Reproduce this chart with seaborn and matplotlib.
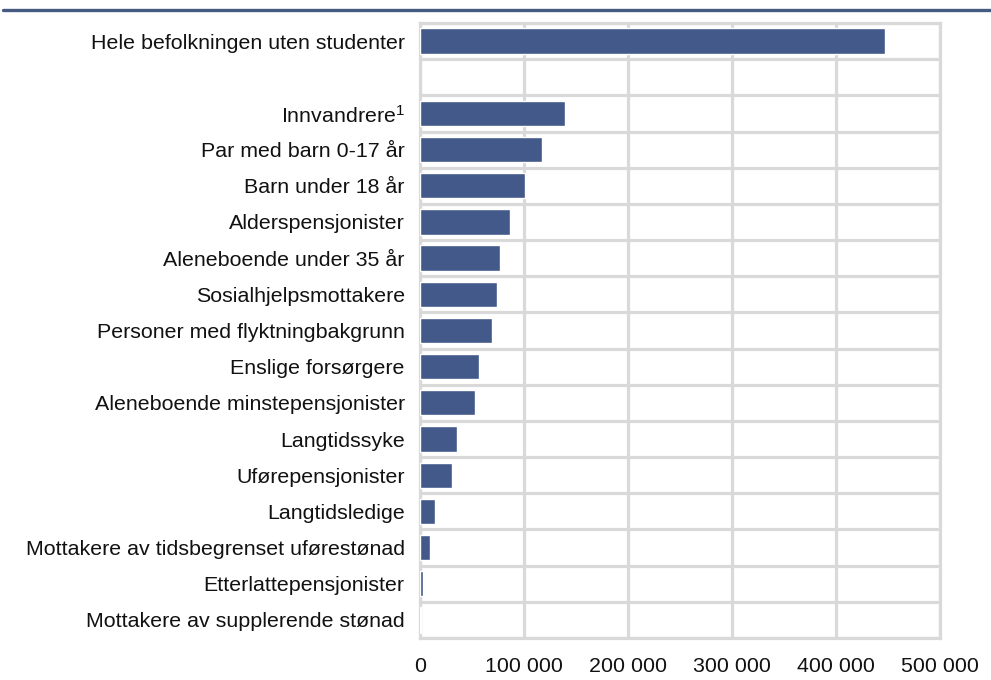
import seaborn as sns
import matplotlib.pyplot as plt
import pandas as pd
from matplotlib.ticker import FuncFormatter, FixedLocator

categories = [
    "Hele befolkningen uten studenter",
    "",
    "Innvandrere$^1$",
    "Par med barn 0-17 år",
    "Barn under 18 år",
    "Alderspensjonister",
    "Aleneboende under 35 år",
    "Sosialhjelpsmottakere",
    "Personer med flyktningbakgrunn",
    "Enslige forsørgere",
    "Aleneboende minstepensjonister",
    "Langtidssyke",
    "Uførepensjonister",
    "Langtidsledige",
    "Mottakere av tidsbegrenset uførestønad",
    "Etterlattepensjonister",
    "Mottakere av supplerende stønad",
]
values = [447000, None, 139000, 117000, 101000, 87000, 77000, 74500, 69000,
          57000, 53000, 36000, 31000, 14500, 10000, 2500, 800]
x_ticks = [0, 100000, 200000, 300000, 400000, 500000]

df = pd.DataFrame({"gruppe": categories, "antall": values})

sns.set_style("white")
plt.rcParams["font.family"] = ["Liberation Sans", "DejaVu Sans"]
plt.rcParams["mathtext.fontset"] = "custom"
plt.rcParams["mathtext.rm"] = "Liberation Sans"
plt.rcParams["mathtext.it"] = "Liberation Sans"

fig = plt.figure(figsize=(9.91, 6.80), dpi=100)
ax = fig.add_axes([0.4238, 0.0618, 0.5248, 0.9044])

sns.barplot(data=df, x="antall", y="gruppe", order=categories, color="#42598A",
            saturation=1, width=0.7, orient="h", ax=ax, zorder=3)

grid_c = "#D9D9D9"
ax.set_xlim(0, 500000)
ax.set_ylim(len(categories) - 0.5, -0.5)
ax.xaxis.set_major_locator(FixedLocator(x_ticks))
ax.xaxis.set_major_formatter(FuncFormatter(lambda v, p: f"{int(v):,}".replace(",", " ")))
ax.yaxis.set_minor_locator(FixedLocator([i + 0.5 for i in range(-1, len(categories))]))
ax.grid(True, axis="x", which="major", color=grid_c, lw=2.3, zorder=0)
ax.grid(True, axis="y", which="minor", color=grid_c, lw=2.3, zorder=0)
ax.grid(False, axis="y", which="major")
ax.set_axisbelow(True)
for s in ax.spines.values():
    s.set_color(grid_c)
    s.set_linewidth(2.3)

ax.set_xlabel("")
ax.set_ylabel("")
ax.tick_params(axis="x", length=0, pad=14, labelsize=15.4, labelcolor="#111111")
ax.tick_params(axis="y", which="both", length=0, pad=11, labelsize=15.4, labelcolor="#111111")

fig.add_artist(plt.Line2D([0.003, 1.0], [0.985, 0.985], color="#455A82", lw=2.4))

fig.savefig("out.png", dpi=100)
